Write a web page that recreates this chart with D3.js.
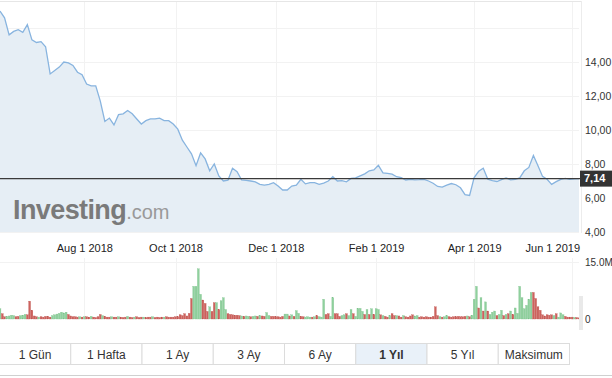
<!DOCTYPE html>
<html lang="tr">
<head>
<meta charset="UTF-8">
<title>1 Yıl</title>
<script src="https://cdnjs.cloudflare.com/ajax/libs/d3/7.8.5/d3.min.js"></script>
<style>
  body { margin: 0; background: #fff; font-family: "Liberation Sans", Arial, sans-serif; }
  svg { display: block; }
</style>
</head>
<body>
<svg id="chart" width="612" height="378"></svg>
<script>
// kapanis fiyati, her 2 islem gunu bir nokta
var price = [
  17.0, 16.6, 15.6, 15.8, 15.9, 15.75, 16.2, 15.3, 15.15, 15.2,
  14.9, 13.3, 13.5, 13.7, 14.0, 13.95, 13.8, 13.4, 13.25, 12.7,
  12.6, 12.6, 11.7, 10.5, 10.7, 10.3, 10.9, 10.95, 11.15, 10.95,
  10.65, 10.35, 10.55, 10.65, 10.65, 10.7, 10.55, 10.55, 10.35, 10.05,
  9.4, 9.0, 8.6, 7.9, 8.65, 8.3, 7.6, 8.0, 7.3, 7.0,
  7.05, 7.75, 7.55, 7.06, 7.04, 7.0, 6.95, 6.8, 6.76, 6.8,
  6.9, 6.7, 6.47, 6.47, 6.7, 6.75, 7.1, 6.83, 6.9, 6.9,
  6.8, 6.88, 7.0, 7.25, 7.0, 7.02, 6.95, 7.15, 7.18, 7.3,
  7.42, 7.6, 7.65, 7.92, 7.48, 7.45, 7.4, 7.25, 7.2, 7.06,
  7.09, 7.07, 7.08, 7.1, 7.0, 6.87, 6.68, 6.64, 6.76, 6.85,
  6.78, 6.6, 6.2, 6.15, 7.2, 7.57, 7.75, 7.1, 7.02, 6.97,
  7.08, 7.18, 7.07, 7.09, 7.18, 7.6, 7.8, 8.5, 7.9, 7.27,
  7.1, 6.8, 6.96, 7.1, 7.15, 7.1, 7.12, 7.14
];
var dayStep = 2;

// hacim (milyon lot), her islem gunu
var volume = [
  2.7, 1.4, 0.6, 0.7, 0.8, 1.0, 0.9, 0.6, 0.7, 0.9, 1.0, 1.2, 1.1,
  4.7, 2.3, 0.8, 0.6, 0.5, 0.6, 0.5, 0.7, 0.7, 0.5,
  0.9, 1.1, 1.3, 1.5, 1.8, 1.6, 1.8, 1.2, 0.8, 0.6, 0.6, 0.5, 0.6,
  0.5, 0.6, 0.6, 0.5, 0.7, 0.5, 0.4, 0.6, 1.2, 0.9, 0.7, 0.5, 0.5, 0.6, 0.5,
  0.5, 0.6, 0.5, 0.4, 0.5, 0.7, 0.5, 0.4, 0.5, 0.6, 0.4, 0.5, 0.5, 0.4, 0.5, 0.5, 0.6, 0.4, 0.5, 0.4, 0.5, 0.5, 0.6, 0.5, 0.5, 0.5, 0.6,
  0.6, 1.1, 0.9, 1.4, 0.8, 1.5,
  5.4, 8.6, 8.6, 13.2, 6.5, 5.0, 4.1, 2.0, 3.2, 2.0, 4.3, 4.3, 2.5, 4.8, 5.6, 2.5, 1.4, 1.2, 1.1, 1.0,
  1.0, 0.9, 0.8, 0.7, 0.8, 0.7, 0.6, 0.7, 0.8, 0.7, 0.9, 0.8, 0.7, 1.7, 0.9, 0.7, 0.7, 0.6, 0.6, 0.5, 0.7, 1.3, 1.3, 0.8, 1.1, 0.7, 2.2, 1.5, 0.7, 0.6,
  0.5, 0.6, 0.5, 0.5, 0.6, 0.9, 0.6, 0.5, 5.2, 1.2, 1.4, 0.7, 5.6, 1.4, 1.4, 0.7, 0.9, 1.1, 1.4, 0.9,
  2.5, 1.4, 0.7, 2.8, 2.8, 2.0, 1.2, 2.5, 1.2, 2.7, 1.2, 2.7, 2.5, 1.1, 0.9, 0.7, 0.5, 0.9, 1.4, 0.9,
  0.9, 0.8, 0.5, 0.9, 0.6, 0.5, 0.8, 1.1, 0.8, 0.9, 0.5, 0.6, 0.5, 0.6, 0.5, 0.5, 0.7, 3.2, 0.9, 0.6,
  0.5, 0.6, 0.9, 0.6, 0.5, 0.6, 0.6, 0.7, 0.6, 0.6, 0.7, 0.8, 0.6, 1.0, 5.2, 8.6, 2.9, 5.6, 2.1, 4.5,
  2.1, 1.2, 1.8, 2.1, 0.9, 1.2, 2.3, 0.9, 1.2, 1.4, 2.1, 1.2,
  2.9, 1.5, 8.6, 5.6, 2.7, 3.6, 5.2, 7.0, 7.0, 5.4, 3.2, 2.3, 1.1, 0.8, 1.1, 1.0, 1.1, 0.9, 1.4, 0.5, 1.6, 1.1, 0.7, 0.5, 0.5, 0.5, 0.4, 0.4, 0.3
];
// 1 = yukselis (yesil), 0 = dusus (kirmizi)
var upDay = [
  1, 0, 0, 1, 1, 1, 1, 0, 0, 1, 1, 1, 0,
  0, 0, 0, 0, 1, 0, 0, 0, 0, 0,
  1, 1, 1, 1, 1, 1, 1, 0, 0, 0, 0, 0, 1,
  0, 1, 0, 0, 1, 0, 0, 0, 0, 1, 0, 0, 0, 1, 0,
  0, 1, 0, 0, 0, 1, 0, 0, 1, 0, 0, 0, 1, 0, 0, 0, 1, 0, 0, 0, 0, 1, 0, 0, 0, 0, 0,
  0, 0, 0, 0, 0, 0,
  0, 1, 1, 1, 1, 0, 0, 0, 1, 0, 0, 1, 0, 1, 1, 1, 0, 0, 0, 0,
  0, 0, 1, 0, 1, 1, 0, 1, 1, 0, 1, 0, 0, 1, 1, 0, 0, 0, 0, 0, 0, 1, 1, 0, 1, 0, 1, 1, 0, 0,
  1, 1, 1, 0, 1, 0, 1, 1, 1, 0, 0, 1, 1, 0, 0, 0, 1, 1, 0, 1,
  1, 0, 1, 1, 1, 1, 0, 1, 0, 1, 0, 1, 1, 0, 1, 0, 0, 1, 0, 0,
  1, 0, 0, 1, 0, 0, 0, 0, 1, 1, 0, 0, 0, 0, 0, 0, 0, 0, 0, 1,
  0, 1, 1, 0, 0, 0, 0, 0, 0, 0, 0, 1, 0, 1, 1, 1, 0, 1, 0, 1,
  0, 1, 1, 1, 0, 1, 1, 0, 1, 0, 1, 0,
  1, 1, 1, 1, 1, 1, 1, 1, 0, 0, 0, 0, 0, 0, 0, 0, 0, 1, 0, 1, 1, 1, 0, 0, 0, 0, 1, 0, 0
];

var tickDays = [37, 77, 121, 165, 208, 251];
var tickLabels = ['Aug 1 2018', 'Oct 1 2018', 'Dec 1 2018', 'Feb 1 2019', 'Apr 1 2019', 'Jun 1 2019'];
var priceTicks = [4, 6, 8, 10, 12, 14];
var priceGrid = [4, 6, 8, 10, 12, 14, 16];
var volumeTicks = [0, 15];
var lastPrice = 7.14;
var ranges = ['1 Gün', '1 Hafta', '1 Ay', '3 Ay', '6 Ay', '1 Yıl', '5 Yıl', 'Maksimum'];
var activeRange = '1 Yıl';

var svg = d3.select('#chart');
var plotW = 579;

var x = d3.scaleLinear().domain([0, 254]).range([0, plotW]);
var y = d3.scaleLinear().domain([4, 14]).range([232, 62]);
var yv = d3.scaleLinear().domain([0, 15]).range([319, 262]);

// plot cercevesi
svg.append('line').attr('x1', 0).attr('x2', 582).attr('y1', 1.5).attr('y2', 1.5)
  .attr('stroke', '#e6e6e6');
svg.append('line').attr('x1', 581.5).attr('x2', 581.5).attr('y1', 1).attr('y2', 233)
  .attr('stroke', '#ececec');

// izgara
var grid = svg.append('g').attr('stroke', '#f2f2f2').attr('shape-rendering', 'crispEdges');
grid.selectAll('.hg').data(priceGrid).enter().append('line')
  .attr('x1', 0).attr('x2', plotW).attr('y1', d => Math.round(y(d)) + 0.5).attr('y2', d => Math.round(y(d)) + 0.5);
grid.selectAll('.vg').data(tickDays).enter().append('line')
  .attr('x1', d => Math.round(x(d)) + 0.5).attr('x2', d => Math.round(x(d)) + 0.5)
  .attr('y1', 2).attr('y2', 232);
grid.selectAll('.vg2').data(tickDays).enter().append('line')
  .attr('x1', d => Math.round(x(d)) + 0.5).attr('x2', d => Math.round(x(d)) + 0.5)
  .attr('y1', 258).attr('y2', 320);
grid.append('line').attr('x1', 0).attr('x2', plotW).attr('y1', 262.5).attr('y2', 262.5);

// fiyat alani
var pts = price.map(function (v, i) { return [i * dayStep, v]; });
var area = d3.area().x(d => x(d[0])).y0(232).y1(d => y(d[1]));
var line = d3.line().x(d => x(d[0])).y(d => y(d[1]));
svg.append('path').attr('d', area(pts)).attr('fill', '#e6eef5');

// logo
var logo = svg.append('text').attr('x', 13).attr('y', 219);
logo.append('tspan').text('Investing').attr('font-size', 27).attr('font-weight', 'bold')
  .attr('fill', '#7a7a7a').attr('letter-spacing', -0.6);
logo.append('tspan').text('.com').attr('font-size', 20).attr('fill', '#999');

svg.append('path').attr('d', line(pts)).attr('fill', 'none')
  .attr('stroke', '#88b4df').attr('stroke-width', 1.3);

// son fiyat cizgisi
svg.append('line').attr('x1', 0).attr('x2', 580)
  .attr('y1', y(lastPrice)).attr('y2', y(lastPrice))
  .attr('stroke', '#3a3a3a').attr('stroke-width', 1.3);

// fiyat ekseni
var yAxis = d3.axisRight(y).tickValues(priceTicks).tickSize(0).tickPadding(5)
  .tickFormat(d => d3.format('.2f')(d).replace('.', ','));
var ya = svg.append('g').attr('transform', 'translate(580,0)').call(yAxis);
ya.select('.domain').remove();
ya.selectAll('text').attr('font-family', '"Liberation Sans", Arial, sans-serif')
  .attr('font-size', 10.5).attr('fill', '#333');

svg.append('rect').attr('x', 580).attr('y', y(lastPrice) - 8).attr('width', 32).attr('height', 16)
  .attr('fill', '#333');
svg.append('text').attr('x', 584).attr('y', y(lastPrice)).attr('dy', '0.35em')
  .attr('font-size', 11).attr('font-weight', 'bold').attr('fill', '#fff')
  .text(d3.format('.2f')(lastPrice).replace('.', ','));

// tarih ekseni
var xAxis = d3.axisBottom(x).tickValues(tickDays).tickSize(0).tickPadding(0)
  .tickFormat((d, i) => tickLabels[i]);
var xa = svg.append('g').attr('transform', 'translate(0,244)').call(xAxis);
xa.select('.domain').remove();
xa.selectAll('text').attr('font-family', '"Liberation Sans", Arial, sans-serif')
  .attr('font-size', 11).attr('fill', '#222');
xa.selectAll('.tick text').each(function () {
  var t = d3.select(this);
  var g = d3.select(this.parentNode);
  var tx = +g.attr('transform').match(/translate\(([^,]+)/)[1];
  var w = this.getComputedTextLength();
  if (tx + w / 2 > plotW + 1) t.attr('x', plotW + 1 - w / 2 - tx);
});

// hacim cubuklari
var bw = (x(1) - x(0)) * 0.82;
svg.append('g').selectAll('rect').data(volume).enter().append('rect')
  .attr('x', (d, i) => x(i) - bw / 2)
  .attr('y', d => yv(d))
  .attr('width', bw)
  .attr('height', d => yv(0) - yv(d))
  .attr('fill', (d, i) => upDay[i] ? '#8fd09d' : '#cd625d')
  .attr('stroke', (d, i) => upDay[i] ? '#7cc18a' : '#bf5550')
  .attr('stroke-width', 0.3);

var vAxis = d3.axisRight(yv).tickValues(volumeTicks).tickSize(0).tickPadding(5)
  .tickFormat(d => d === 0 ? '0' : d3.format('.1f')(d) + 'M');
var va = svg.append('g').attr('transform', 'translate(580,0)').call(vAxis);
va.select('.domain').remove();
va.selectAll('text').attr('font-family', '"Liberation Sans", Arial, sans-serif')
  .attr('font-size', 10).attr('fill', '#333');
svg.append('rect').attr('x', 579).attr('y', 296).attr('width', 4).attr('height', 34).attr('fill', '#e9e9e9');

// zaman araligi dugmeleri
var bx = d3.scaleBand().domain(ranges).range([-1, 569]);
var btn = svg.append('g').selectAll('g').data(ranges).enter().append('g')
  .attr('transform', d => 'translate(' + bx(d) + ',343)');
btn.append('rect').attr('x', 0.5).attr('y', 0.5).attr('width', bx.bandwidth()).attr('height', 21)
  .attr('fill', d => d === activeRange ? '#e9f1f9' : '#fff')
  .attr('stroke', '#dcdcdc');
btn.append('text').attr('x', bx.bandwidth() / 2 + 0.5).attr('y', 11.5).attr('dy', '0.35em')
  .attr('text-anchor', 'middle').attr('font-size', 12).attr('fill', '#333')
  .attr('font-weight', d => d === activeRange ? 'bold' : 'normal')
  .text(d => d);
svg.append('line').attr('x1', 0).attr('x2', 612).attr('y1', 375.5).attr('y2', 375.5)
  .attr('stroke', '#d0d0d0');
</script>
</body>
</html>
